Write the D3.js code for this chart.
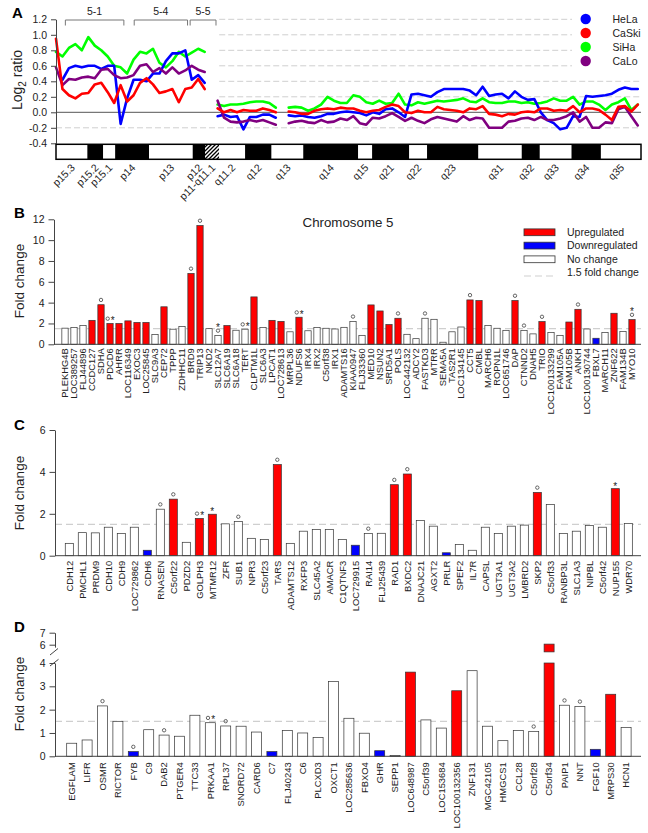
<!DOCTYPE html>
<html><head><meta charset="utf-8">
<script src="https://cdn.jsdelivr.net/npm/d3@7"></script>
<style>
body{margin:0;background:#fff}
svg{display:block;font-family:"Liberation Sans",Arial,Helvetica,sans-serif}
</style>
</head><body>
<svg id="c" width="648" height="833"></svg>
<script>
// ================= DATA =================
// Panel A: log2 ratio along chromosome 5 (position in Mb, 2 Mb steps)
const positionsMb = d3.range(0, 181, 2);
const hela = [null,0.42,0.57,0.6,0.58,0.6,0.6,0.56,0.6,0.6,-0.15,0.18,0.42,0.42,0.4,0.5,0.5,0.66,0.76,0.76,0.8,0.42,0.48,0.38,
  null,-0.05,-0.03,-0.06,-0.05,-0.22,-0.06,-0.06,-0.03,-0.03,-0.07,null,
  -0.04,-0.05,-0.04,-0.06,-0.07,-0.05,-0.02,-0.02,0.0,0.01,0.0,-0.01,-0.04,0.0,-0.02,0.04,0.05,0.0,-0.06,
  0.23,0.24,0.22,0.2,0.26,0.3,0.3,0.3,0.3,0.28,0.22,0.33,0.21,0.23,0.24,0.18,0.27,0.2,0.16,0.17,
  0.0,-0.1,-0.14,-0.22,-0.2,-0.05,-0.06,0.21,0.2,0.21,0.22,0.24,0.29,0.32,0.3,0.3];
const caski = [0.95,0.3,0.22,0.18,0.24,0.25,0.36,0.38,0.26,0.12,0.35,0.14,0.22,0.38,0.44,0.36,0.25,0.27,0.3,0.13,0.3,0.32,0.43,0.3,
  null,0.05,0.0,0.03,0.0,0.03,0.02,0.02,0.05,0.03,0.0,null,
  0.01,0.0,-0.02,-0.02,0.02,0.04,0.05,0.04,0.06,0.05,0.05,0.02,0.0,0.02,0.03,0.07,0.1,0.08,0.0,
  -0.01,0.02,0.0,0.0,0.07,0.04,0.03,0.02,0.0,0.05,0.04,0.08,-0.02,-0.03,-0.05,-0.02,-0.03,0.0,0.01,0.0,
  0.05,0.05,0.02,0.03,0.02,0.08,0.0,0.05,0.05,0.03,-0.03,-0.1,0.07,0.08,0.01,0.1];
const siha = [0.78,0.72,0.83,0.88,0.8,0.97,0.86,0.8,0.72,0.6,0.58,0.5,0.68,0.78,0.76,0.82,0.64,0.58,0.66,0.78,0.72,0.77,0.82,0.78,
  null,0.1,0.08,0.1,0.1,0.11,0.13,0.14,0.14,0.12,0.06,null,
  0.06,0.07,0.06,0.02,0.05,0.1,0.2,0.15,0.12,0.12,0.22,0.2,0.13,0.11,0.15,0.11,0.12,0.24,0.1,
  0.09,0.13,0.11,0.13,0.15,0.14,0.15,0.16,0.18,0.14,0.13,0.18,0.13,0.12,0.12,0.14,0.14,0.12,0.13,0.11,
  0.12,0.14,0.18,0.15,0.15,0.2,0.1,0.14,0.14,0.1,0.03,0.1,0.13,0.18,0.03,0.1];
const calo = [0.58,0.35,0.43,0.42,0.45,0.46,0.44,0.55,0.56,0.48,0.44,0.45,0.48,0.6,0.62,0.52,0.57,0.5,0.58,0.5,0.54,0.6,0.55,0.52,
  null,0.15,-0.07,-0.12,-0.13,-0.12,-0.1,-0.12,-0.1,-0.13,-0.16,null,
  -0.14,-0.12,-0.11,-0.13,-0.14,-0.1,-0.13,-0.12,-0.08,-0.1,-0.05,-0.14,-0.16,-0.07,-0.08,-0.05,-0.01,-0.06,-0.11,
  -0.07,-0.11,-0.14,-0.09,-0.06,-0.08,-0.1,-0.12,-0.05,-0.1,-0.07,-0.08,-0.2,-0.2,-0.2,-0.12,-0.11,-0.08,-0.07,-0.1,
  -0.06,-0.1,-0.1,-0.08,-0.05,0.0,-0.12,-0.06,-0.2,-0.2,-0.13,-0.14,0.04,0.07,-0.05,-0.17];
const seriesNames = ["HeLa","CaSki","SiHa","CaLo"];
const seriesColors = ["#0000ff","#ff0000","#00ff00","#800080"];
const aTicks = [1.2,1.0,0.8,0.6,0.4,0.2,0.0,-0.2,-0.4];

// Ideogram (band edges in Mb)
const bandEdges = [0,9.7,14.6,18.3,28.8,42.3,46.1,50.5,58.5,66.7,76.5,93.5,97.8,109.3,114.8,130.7,144.1,149.7,159.5,168.6,181];
const bandStain = ["w","b","w","b","w","b","h","w","b","w","b","w","b","w","b","w","b","w","b","w"];
const bandNames = ["p15.3","p15.2","p15.1","p14","p13","p12","p11-q11.1","q11.2","q12","q13","q14","q15","q21","q22","q23","q31","q32","q33","q34","q35"];
const regionNames = ["5-1","5-4","5-5"];
const regionStart = [2.9,24.2,41.5];
const regionEnd = [21.0,40.7,49.5];

// Panel B
const bNames = ["PLEKHG4B","LOC389257","FLJ44896","CCDC127","SDHA","PDCD6","AHRR","LOC116349","EXOC3","LOC25845","SLC9A3","CEP72","TPPP","ZDHHC11","BRD9","TRIP13","NKD2","SLC12A7","SLC6A19","SLC6A18","TERT","CLPTM1L","SLC6A3","LPCAT1","LOC728613","MRPL36","NDUFS6","IRX4","IRX2","C5orf38","IRX1","ADAMTS16","KIAA0947","FLJ33360","MED10","NSUN2","SRD5A1","POLS","LOC442132","ADCY2","FASTKD3","MTRR","SEMA5A","TAS2R1","LOC134145","CCT5","CMBL","MARCH6","ROPN1L","LOC651746","DAP","CTNND2","DNAH5","TRIO","LOC100133299","FAM105A","FAM105B","ANKH","LOC100130744","FBXL7","MARCH11","ZNF622","FAM134B","MYO10"];
const bValues = [1.55,1.6,1.8,2.3,3.8,2.0,2.0,2.25,2.1,2.1,0.95,3.6,1.45,1.7,6.8,11.4,1.5,0.85,1.8,1.35,1.45,4.55,1.6,2.3,2.2,1.2,2.6,1.3,1.6,1.54,1.47,1.63,2.2,0.86,3.78,3.2,1.9,2.5,0.96,0.54,2.5,2.4,0.2,1.2,1.66,4.26,4.2,1.8,1.54,1.34,4.2,1.34,1.0,2.18,1.12,0.86,2.14,3.36,1.47,0.58,1.12,2.98,1.22,2.37];
const bStatus = ["n","n","n","u","u","u","u","u","u","u","n","u","n","n","u","u","n","n","u","n","n","u","n","u","u","n","u","n","n","n","n","n","n","n","u","u","u","u","n","n","n","n","n","n","n","u","u","n","n","n","u","n","n","u","n","n","u","u","n","d","n","u","n","u"];
const bMarks = ["","","","","o","o*","","","","","","","","","o","o","","*o","","","o*","","","","","","o*","","","","","","o","","","","","o","","","o","","","","","o","","","","","o","o","","o","","","","o","","","","","","*o"];
const bTicks = [0,2,4,6,8,10,12];

// Panel C
const cNames = ["CDH12","PMCHL1","PRDM9","CDH10","CDH9","LOC729862","CDH6","RNASEN","C5orf22","PDZD2","GOLPH3","MTMR12","ZFR","SUB1","NPR3","C5orf23","TARS","ADAMTS12","RXFP3","SLC45A2","AMACR","C1QTNF3","LOC729915","RAI14","FLJ25439","RAD1","BXDC2","DNAJC21","AGXT2","PRLR","SPEF2","IL7R","CAPSL","UGT3A1","UGT3A2","LMBRD2","SKP2","C5orf33","RANBP3L","SLC1A3","NIPBL","C5orf42","NUP155","WDR70"];
const cValues = [0.59,1.1,1.09,1.36,1.06,1.36,0.26,2.22,2.7,0.64,1.78,1.98,1.52,1.63,0.83,0.78,4.35,0.59,1.17,1.25,1.25,0.78,0.5,1.06,1.07,3.39,3.9,1.68,1.41,0.14,0.54,0.26,1.36,1.06,1.41,1.46,3.02,2.45,1.06,1.17,1.44,1.36,3.2,1.54];
const cStatus = ["n","n","n","n","n","n","d","n","u","n","u","u","n","n","n","n","u","n","n","n","n","n","d","n","n","u","u","n","n","d","n","n","n","n","n","n","u","n","n","n","n","n","u","n"];
const cMarks = ["","","","","","","","o","o","","o*","*","","o","","","o","","","","","","","o","","o","o","","","","","","","","","","o","","","","","","*",""];
const cTicks = [0,2,4,6];

// Panel D
const dNames = ["EGFLAM","LIFR","OSMR","RICTOR","FYB","C9","DAB2","PTGER4","TTC33","PRKAA1","RPL37","SNORD72","CARD6","C7","FLJ40243","C6","PLCXD3","OXCT1","LOC285636","FBXO4","GHR","SEPP1","LOC648987","C5orf39","LOC153684","LOC100132356","ZNF131","MGC42105","HMGCS1","CCL28","C5orf28","C5orf34","PAIP1","NNT","FGF10","MRPS30","HCN1"];
const dValues = [0.56,0.7,2.16,1.5,0.2,1.14,0.91,0.86,1.76,1.44,1.3,1.29,1.04,0.2,1.11,1.0,0.81,3.21,1.63,0.99,0.24,0.03,3.61,1.56,1.21,2.81,3.67,1.29,0.67,1.11,1.07,6.05,2.19,2.14,0.3,2.66,1.24];
const dStatus = ["n","n","n","n","d","n","n","n","n","n","n","n","n","d","n","n","n","n","n","n","d","n","u","n","n","u","n","n","n","n","n","u","n","n","d","u","n"];
const dMarks = ["","","o","","o","","o","","","o*","o","","","","","","","","","","","","","","","","","","","","o","","o","o","","",""];
const dTicksLow = [0,1,2,3,4];
const dTicksHigh = [6,7];

const legendLabels = ["Upregulated","Downregulated","No change","1.5 fold change"];
const threshold = 1.5;

// ================= DRAWING =================
const FONT = '"Liberation Sans", Arial, Helvetica, sans-serif';
const fillFor = {u:"#ff0000", d:"#0000ff", n:"#ffffff"};
const svg = d3.select("#c");
const defs = svg.append("defs");
const pat = defs.append("pattern").attr("id","hatch").attr("patternUnits","userSpaceOnUse").attr("width",4).attr("height",4);
pat.append("rect").attr("width",4).attr("height",4).attr("fill","#fff");
pat.append("path").attr("d","M-1,1 l2,-2 M0,4 l4,-4 M3,5 l2,-2").attr("stroke","#000").attr("stroke-width",1.3);

function styleAxis(g, fs){
  g.selectAll("path,line").attr("stroke","#444").attr("stroke-width",1);
  g.selectAll("text").attr("fill","#222").style("font-size",(fs||10.5)+"px").style("font-family",FONT);
}
function panelLetter(t,x,y){
  svg.append("text").attr("x",x).attr("y",y).text(t).style("font-weight","bold").style("font-size","15px").attr("fill","#000");
}
function yLabel(t,x,y){
  svg.append("text").attr("transform",`translate(${x},${y}) rotate(-90)`).attr("text-anchor","middle")
    .style("font-size","13.5px").attr("fill","#222").text(t);
}

// ---------- Panel A ----------
const xA = d3.scaleLinear().domain([0,181]).range([56,641]);
const yA = d3.scaleLinear().domain([-0.4,1.2]).range([143.3,19.3]);
const gA = svg.append("g");
aTicks.filter(t => t !== 0 && t !== -0.4).forEach(t => {
  const x0 = t > 0 ? xA(bandEdges[7]) : xA(0);
  gA.append("line").attr("x1",x0).attr("x2",xA(181)).attr("y1",yA(t)).attr("y2",yA(t))
    .attr("stroke","#cfcfcf").attr("stroke-width",1).attr("stroke-dasharray","6,3");
});
gA.append("line").attr("x1",xA(0)).attr("x2",xA(181)).attr("y1",yA(0)).attr("y2",yA(0)).attr("stroke","#555").attr("stroke-width",1);

// series lines
const series = [hela, caski, siha, calo];
const drawOrder = [2,0,3,1];
drawOrder.forEach(si => {
  const line = d3.line().defined(d => d[1] !== null).x(d => xA(d[0])).y(d => yA(d[1]));
  gA.append("path").datum(positionsMb.map((p,i) => [p, series[si][i]]))
    .attr("d", line).attr("fill","none").attr("stroke", seriesColors[si])
    .attr("stroke-width",2.6).attr("stroke-linejoin","round").attr("stroke-linecap","round");
});

// axis A
const axA = gA.append("g").attr("transform","translate(56,0)")
  .call(d3.axisLeft(yA).tickValues(aTicks).tickFormat(d => d.toFixed(1)).tickSize(5).tickSizeOuter(0).tickPadding(4));
styleAxis(axA, 10.5);

// region brackets
regionNames.forEach((r,i) => {
  const x1 = xA(regionStart[i]), x2 = xA(regionEnd[i]);
  gA.append("path").attr("d",`M${x1},25.5 V20 H${x2} V25.5`).attr("fill","none").attr("stroke","#777").attr("stroke-width",1);
  gA.append("text").attr("x",(x1+x2)/2).attr("y",15).attr("text-anchor","middle").style("font-size","10.5px").attr("fill","#222").text(r);
});

// ideogram
const ideoTop = yA(-0.4) + 1, ideoH = 15;
bandStain.forEach((s,i) => {
  gA.append("rect").attr("x",xA(bandEdges[i])).attr("y",ideoTop).attr("width",xA(bandEdges[i+1])-xA(bandEdges[i])).attr("height",ideoH)
    .attr("fill", s === "b" ? "#000" : s === "h" ? "url(#hatch)" : "#fff");
  const cx = (xA(bandEdges[i]) + xA(bandEdges[i+1]))/2 + 4;
  gA.append("text").attr("transform",`translate(${cx},${ideoTop+ideoH+9}) rotate(-45)`).attr("text-anchor","end")
    .style("font-size","10.5px").attr("fill","#222").text(bandNames[i]);
});
gA.append("rect").attr("x",xA(0)).attr("y",ideoTop).attr("width",xA(181)-xA(0)).attr("height",ideoH)
  .attr("fill","none").attr("stroke","#000").attr("stroke-width",1.5);

// legend A
gA.append("rect").attr("x",572).attr("y",10).attr("width",72).attr("height",61).attr("fill","#fff");
seriesNames.forEach((n,i) => {
  gA.append("circle").attr("cx",585.7).attr("cy",19+14*i).attr("r",5.2).attr("fill",seriesColors[i]);
  gA.append("text").attr("x",612.5).attr("y",19+14*i).attr("dy","0.35em").style("font-size","10.5px").attr("fill","#222").text(n);
});
panelLetter("A",12,18);
// y label with subscript
const yl = svg.append("text").attr("transform","translate(21.5,80) rotate(-90)").attr("text-anchor","middle")
  .style("font-size","14px").attr("fill","#222");
yl.append("tspan").text("Log");
yl.append("tspan").attr("dy",4).style("font-size","10px").text("2");
yl.append("tspan").attr("dy",-4).text(" ratio");

// ---------- bar panel helper ----------
function drawMarks(g, cx, top, m){
  const circ = (x,y) => g.append("circle").attr("cx",x).attr("cy",y).attr("r",1.7).attr("fill","none").attr("stroke","#555").attr("stroke-width",0.9);
  const star = (x,y) => g.append("text").attr("x",x).attr("y",y).attr("text-anchor","middle").style("font-size","10px").attr("fill","#222").text("*");
  if (m === "o") circ(cx, top-4.8);
  else if (m === "*") star(cx, top+1);
  else if (m === "o*") { circ(cx-2.3, top-4.8); star(cx+2.8, top+0.5); }
  else if (m === "*o") { circ(cx, top-4.8); star(cx, top-4.5); }
}
function barPanel(o){
  const g = svg.append("g");
  const x = d3.scaleBand().domain(o.names).range(o.xRange).paddingInner(o.pad).paddingOuter(o.pad/2);
  g.append("line").attr("x1",o.axisX).attr("x2",641).attr("y1",o.y(threshold)).attr("y2",o.y(threshold))
    .attr("stroke","#cfcfcf").attr("stroke-width",1.2).attr("stroke-dasharray","7,4");
  o.names.forEach((n,i) => {
    const v = o.values[i];
    const cx = x(n) + x.bandwidth()/2;
    let top;
    if (o.yHigh && v > o.breakLow) {
      top = o.yHigh(v);
      g.append("rect").attr("x",x(n)).attr("y",o.y(o.breakAt)).attr("width",x.bandwidth()).attr("height",o.y(0)-o.y(o.breakAt))
        .attr("fill",fillFor[o.status[i]]).attr("stroke","#333").attr("stroke-width",0.7);
      g.append("rect").attr("x",x(n)).attr("y",top).attr("width",x.bandwidth()).attr("height",o.yHigh(o.breakLow)-top)
        .attr("fill",fillFor[o.status[i]]).attr("stroke","#333").attr("stroke-width",0.7);
    } else {
      top = o.y(v);
      g.append("rect").attr("x",x(n)).attr("y",top).attr("width",x.bandwidth()).attr("height",o.y(0)-top)
        .attr("fill",fillFor[o.status[i]]).attr("stroke","#333").attr("stroke-width",0.7);
    }
    if (o.marks[i]) drawMarks(g, cx, top, o.marks[i]);
    g.append("text").attr("transform",`translate(${cx},${o.y(0)+o.labelGap}) rotate(-90)`).attr("text-anchor","end")
      .attr("dy","0.35em").style("font-size",o.fs+"px").attr("fill","#222").text(n);
  });
  g.append("line").attr("x1",o.axisX).attr("x2",641).attr("y1",o.y(0)).attr("y2",o.y(0)).attr("stroke","#444").attr("stroke-width",1);
  const ax = g.append("g").attr("transform",`translate(${o.axisX},0)`)
    .call(d3.axisLeft(o.y).tickValues(o.ticks).tickFormat(d3.format("d")).tickSize(5.5).tickSizeOuter(0).tickPadding(4));
  styleAxis(ax, 10.5);
  if (o.yHigh) {
    const ax2 = g.append("g").attr("transform",`translate(${o.axisX},0)`)
      .call(d3.axisLeft(o.yHigh).tickValues(o.ticksHigh).tickFormat(d3.format("d")).tickSize(5.5).tickSizeOuter(0).tickPadding(4));
    styleAxis(ax2, 10.5);
  }
  return g;
}

// ---------- Panel B ----------
const yB = d3.scaleLinear().domain([0,12]).range([344.3,219.3]);
barPanel({names:bNames, values:bValues, status:bStatus, marks:bMarks, xRange:[60.5,636.5], pad:0.3,
  y:yB, ticks:bTicks, axisX:54, labelGap:4, fs:9.4});
panelLetter("B",14,218);
yLabel("Fold change",24,281);
svg.append("text").attr("x",348).attr("y",226.5).attr("text-anchor","middle").style("font-size","13.3px").attr("fill","#222").text("Chromosome 5");
const lgB = svg.append("g");
["u","d","n"].forEach((s,i) => {
  const cy = [232.3,245.6,259.3][i];
  lgB.append("rect").attr("x",524).attr("y",cy-3.4).attr("width",31).attr("height",6.8).attr("fill",fillFor[s]).attr("stroke","#333").attr("stroke-width",0.8);
  lgB.append("text").attr("x",567).attr("y",cy).attr("dy","0.35em").style("font-size","10.5px").attr("fill","#222").text(legendLabels[i]);
});
lgB.append("line").attr("x1",524).attr("x2",555).attr("y1",276).attr("y2",276).attr("stroke","#cfcfcf").attr("stroke-width",1.2).attr("stroke-dasharray","7,4");
lgB.append("text").attr("x",567).attr("y",272.8).attr("dy","0.35em").style("font-size","10.5px").attr("fill","#222").text(legendLabels[3]);

// ---------- Panel C ----------
const yC = d3.scaleLinear().domain([0,6]).range([555.7,430]);
barPanel({names:cNames, values:cValues, status:cStatus, marks:cMarks, xRange:[62.8,634.8], pad:0.38,
  y:yC, ticks:cTicks, axisX:55, labelGap:5, fs:9.4});
panelLetter("C",14,430);
yLabel("Fold change",24,493);

// ---------- Panel D ----------
const yDlow = d3.scaleLinear().domain([0,4]).range([756.3,663]);
const yDhigh = d3.scaleLinear().domain([5.8,7]).range([647.1,632.7]);
barPanel({names:dNames, values:dValues, status:dStatus, marks:dMarks, xRange:[64,633.8], pad:0.35,
  y:yDlow, ticks:dTicksLow, yHigh:yDhigh, ticksHigh:dTicksHigh, breakLow:5.4, breakAt:4,
  axisX:55, labelGap:6, fs:9.4});
svg.append("line").attr("x1",50).attr("y1",655).attr("x2",58).attr("y2",648.5).attr("stroke","#444").attr("stroke-width",1);
svg.append("line").attr("x1",50).attr("y1",666).attr("x2",58.5).attr("y2",659.3).attr("stroke","#444").attr("stroke-width",1);
panelLetter("D",14,632);
yLabel("Fold change",24,694);
</script>
</body></html>
